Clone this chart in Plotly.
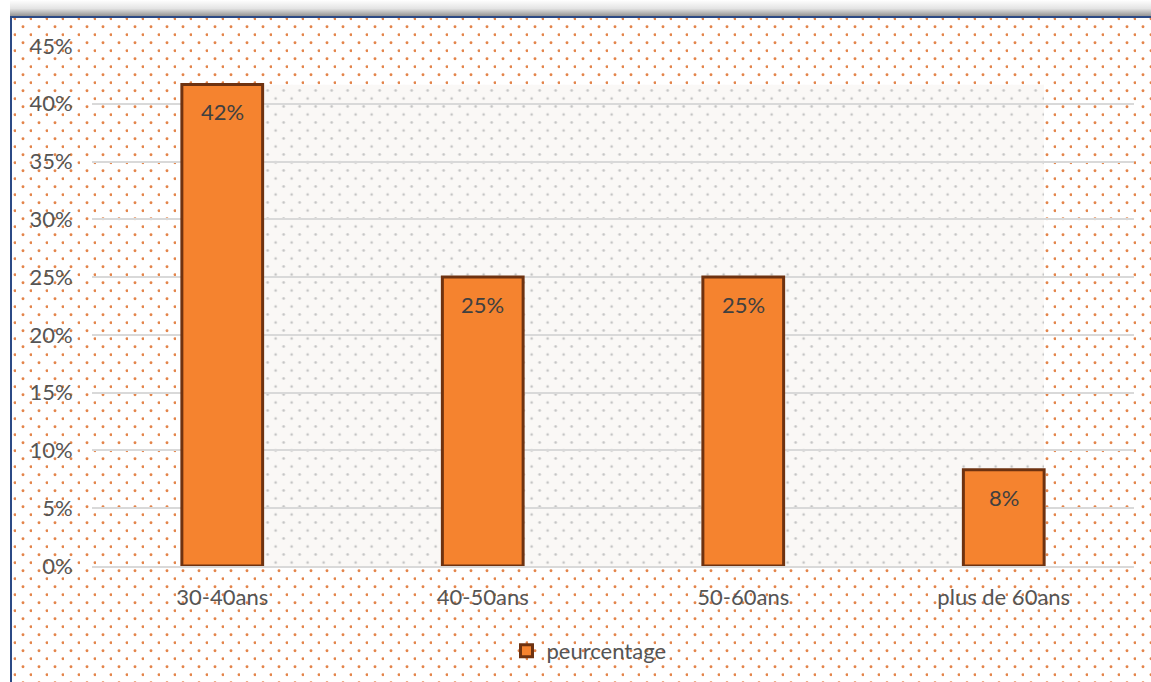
import base64
import plotly.graph_objects as go

# ---- data ----
categories = ["30-40ans", "40-50ans", "50-60ans", "plus de 60ans"]
values = [41.67, 25.0, 25.0, 8.33]
value_labels = ["42%", "25%", "25%", "8%"]
y_ticks = [0, 5, 10, 15, 20, 25, 30, 35, 40, 45]
y_tick_labels = [f"{t}%" for t in y_ticks]
series_name = "peurcentage"

# ---- styling ----
W, H = 1151, 682
FONT = "Lato"
TXT = "#555555"
BAR_W = 0.31
X_DOM = [92 / W, 1134 / W]
Y_DOM = [1 - 566 / H, 1 - 46 / H]
Y_RANGE = [0, 45]


def svg_uri(svg):
    return "data:image/svg+xml;base64," + base64.b64encode(svg.encode()).decode()


bg_svg = f"""<svg xmlns="http://www.w3.org/2000/svg" width="{W}" height="{H}" viewBox="0 0 {W} {H}" preserveAspectRatio="none">
<defs>
<linearGradient id="g" x1="0" y1="0" x2="0" y2="1">
<stop offset="0" stop-color="#ffffff"/><stop offset="0.5" stop-color="#e4e4e4"/><stop offset="1" stop-color="#8a8a8a"/>
</linearGradient>
<pattern id="d" patternUnits="userSpaceOnUse" x="0" y="0" width="16" height="16">
<circle cx="7" cy="10.7" r="1.45" fill="#e3844a"/>
<circle cx="15" cy="2.7" r="1.45" fill="#e3844a"/>
</pattern>
</defs>
<rect x="0" y="0" width="{W}" height="{H}" fill="#ffffff"/>
<rect x="10" y="0" width="{W-10}" height="17" fill="url(#g)"/>
<rect x="12" y="18" width="{W-12}" height="{H-18}" fill="url(#d)"/>
<line x1="11" y1="17" x2="11" y2="{H}" stroke="#2c4a85" stroke-width="2"/>
<line x1="10" y1="17" x2="{W}" y2="17" stroke="#2c4a85" stroke-width="2"/>
</svg>"""

# plot-area shaded region (from right edge of first bar to right edge of last bar)
px_per_cat = (X_DOM[1] - X_DOM[0]) * W / len(categories)
px_per_unit = (Y_DOM[1] - Y_DOM[0]) * H / (Y_RANGE[1] - Y_RANGE[0])
reg_x0 = 0 + BAR_W / 2
reg_x1 = len(categories) - 1 + BAR_W / 2
reg_top = max(values)
rw = (reg_x1 - reg_x0) * px_per_cat
rh = reg_top * px_per_unit
reg_svg = f"""<svg xmlns="http://www.w3.org/2000/svg" width="{rw:.1f}" height="{rh:.1f}" viewBox="0 0 {rw:.1f} {rh:.1f}" preserveAspectRatio="none">
<defs>
<pattern id="d" patternUnits="userSpaceOnUse" x="0" y="0" width="16" height="16">
<circle cx="5" cy="6" r="1.35" fill="#c4c4c4"/>
<circle cx="13" cy="14" r="1.35" fill="#c4c4c4"/>
</pattern>
</defs>
<rect x="0" y="0" width="{rw:.1f}" height="{rh:.1f}" fill="#faf8f6"/>
<rect x="0" y="0" width="{rw:.1f}" height="{rh:.1f}" fill="url(#d)"/>
</svg>"""

fig = go.Figure()
fig.add_trace(go.Bar(
    x=categories, y=values, name=series_name, width=BAR_W,
    marker=dict(color="#F5832F", line=dict(color="#6e3210", width=3)),
    showlegend=True, hoverinfo="skip",
))

for c, v, t in zip(categories, values, value_labels):
    fig.add_annotation(x=c, y=v, text=t, showarrow=False, yanchor="top", yshift=-12,
                       font=dict(family=FONT, size=22, color="#404040"))

fig.update_layout(
    width=W, height=H, autosize=False,
    margin=dict(l=0, r=0, t=0, b=0, pad=0, autoexpand=False),
    paper_bgcolor="#ffffff", plot_bgcolor="rgba(0,0,0,0)",
    font=dict(family=FONT, color=TXT, size=22),
    showlegend=True,
    legend=dict(orientation="h", x=589 / W, xanchor="center", y=1 - 651 / H, yanchor="middle",
                bgcolor="rgba(0,0,0,0)", font=dict(family=FONT, size=22, color=TXT)),
    xaxis=dict(domain=X_DOM, showgrid=False, showline=True, linecolor="#d9d9d9", linewidth=2,
               ticks="outside", ticklen=11, tickcolor="rgba(0,0,0,0)", automargin=False,
               tickfont=dict(family=FONT, size=22, color=TXT), fixedrange=True),
    yaxis=dict(domain=Y_DOM, range=Y_RANGE, tickvals=y_ticks, ticktext=y_tick_labels,
               showgrid=True, gridcolor="#d9d9d9", gridwidth=2, zeroline=False, showline=False,
               ticks="outside", ticklen=14, tickcolor="rgba(0,0,0,0)", automargin=False,
               tickfont=dict(family=FONT, size=22, color=TXT), fixedrange=True),
    images=[
        dict(source=svg_uri(bg_svg), xref="paper", yref="paper", x=0, y=1, sizex=1, sizey=1,
             sizing="stretch", xanchor="left", yanchor="top", layer="below"),
        dict(source=svg_uri(reg_svg), xref="x", yref="y", x=reg_x0, y=reg_top,
             sizex=reg_x1 - reg_x0, sizey=reg_top,
             sizing="stretch", xanchor="left", yanchor="top", layer="below"),
    ],
)

fig.write_html("out.html")
